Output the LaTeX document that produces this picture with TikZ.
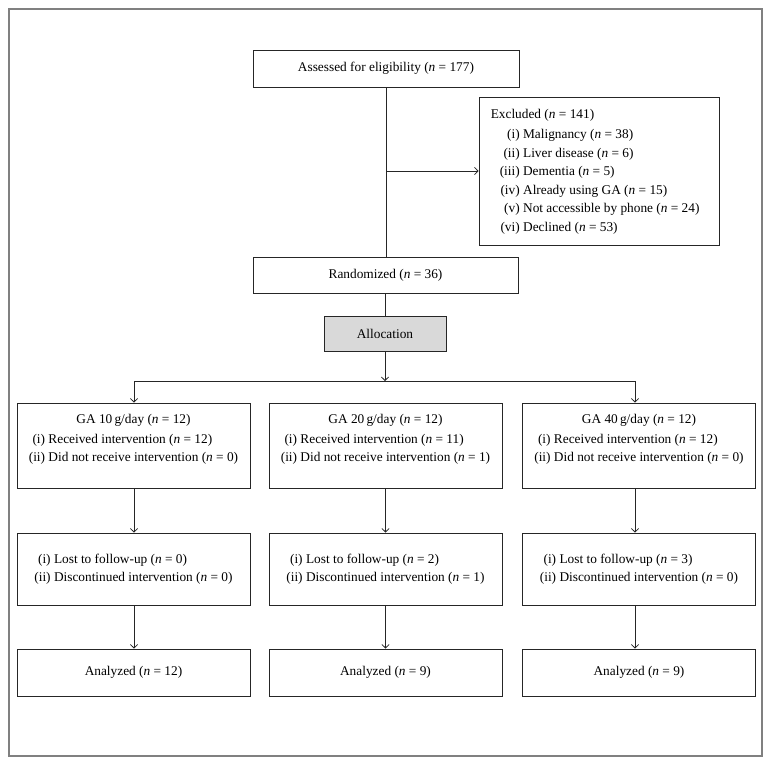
\documentclass[tikz,border=0pt]{standalone}
\usepackage{fontspec}
\setmainfont{Liberation Serif}
\usetikzlibrary{arrows.meta}
\definecolor{allocgray}{HTML}{D9D9D9}
\definecolor{framegray}{HTML}{808080}
\begin{document}
\begin{tikzpicture}[x=0.75pt,y=-0.75pt,
  box/.style={draw=black!85, line width=0.7pt, inner sep=0pt, fill=white, font=\fontsize{10}{12}\selectfont},
  txt/.style={inner sep=0pt, font=\fontsize{10}{12}\selectfont},
  colbox/.style={box, minimum width=174.75pt},
  conn/.style={line width=0.6pt, draw=black!85},
  arr/.style={conn, -{Straight Barb[length=2.6pt,width=5.5pt]}},
  outerframe/.style={draw=framegray, line width=0.8pt}]
\useasboundingbox (0,0) rectangle (772,766);
\draw[outerframe] (9,9) rectangle (762,756);

% top
\node[box, minimum width=199.5pt, minimum height=27.75pt] (assess) at (386,68.5) {Assessed for eligibility (\textit{n} = 177)};
\node[box, minimum width=180pt, minimum height=111pt] (excl) at (599,171) {};
\node[txt, anchor=west] (exclt) at ([xshift=9pt]excl.west) {\def\arraystretch{1.16}%
\begin{tabular}{@{\hspace{6.75pt}}r@{ }l@{}}
\multicolumn{2}{@{}l@{}}{Excluded (\textit{n} = 141)}\\[1.5pt]
(i) & Malignancy (\textit{n} = 38)\\
(ii) & Liver disease (\textit{n} = 6)\\
(iii) & Dementia (\textit{n} = 5)\\
(iv) & Already using GA (\textit{n} = 15)\\
(v) & Not accessible by phone (\textit{n} = 24)\\
(vi) & Declined (\textit{n} = 53)
\end{tabular}};
\node[box, minimum width=198.75pt, minimum height=27pt] (rand) at (385.5,275) {Randomized (\textit{n} = 36)};
\node[box, fill=allocgray, minimum width=91.5pt, minimum height=26.25pt] (alloc) at (385,333.5) {Allocation};

% column 1
\node[colbox, minimum height=63.75pt] (g1) at (133.5,445.5) {};
\node[txt] (g1t) at (133.5,439) {\def\arraystretch{1.125}%
\begin{tabular}{@{}r@{ }l@{}}
\multicolumn{2}{@{}c@{}}{GA 10\,g/day (\textit{n} = 12)}\\[1.5pt]
(i) & Received intervention (\textit{n} = 12)\\
(ii) & Did not receive intervention (\textit{n} = 0)
\end{tabular}};
\node[colbox, minimum height=54pt] (f1) at (133.5,569) {\def\arraystretch{1.125}%
\begin{tabular}{@{}r@{ }l@{}}
(i) & Lost to follow-up (\textit{n} = 0)\\
(ii) & Discontinued intervention (\textit{n} = 0)
\end{tabular}};
\node[colbox, minimum height=35.25pt] (a1) at (133.5,672.5) {Analyzed (\textit{n} = 12)};

% column 2
\node[colbox, minimum height=63.75pt] (g2) at (385.5,445.5) {};
\node[txt] (g2t) at (385.5,439) {\def\arraystretch{1.125}%
\begin{tabular}{@{}r@{ }l@{}}
\multicolumn{2}{@{}c@{}}{GA 20\,g/day (\textit{n} = 12)}\\[1.5pt]
(i) & Received intervention (\textit{n} = 11)\\
(ii) & Did not receive intervention (\textit{n} = 1)
\end{tabular}};
\node[colbox, minimum height=54pt] (f2) at (385.5,569) {\def\arraystretch{1.125}%
\begin{tabular}{@{}r@{ }l@{}}
(i) & Lost to follow-up (\textit{n} = 2)\\
(ii) & Discontinued intervention (\textit{n} = 1)
\end{tabular}};
\node[colbox, minimum height=35.25pt] (a2) at (385.5,672.5) {Analyzed (\textit{n} = 9)};

% column 3
\node[colbox, minimum height=63.75pt] (g3) at (639,445.5) {};
\node[txt] (g3t) at (639,439) {\def\arraystretch{1.125}%
\begin{tabular}{@{}r@{ }l@{}}
\multicolumn{2}{@{}c@{}}{GA 40\,g/day (\textit{n} = 12)}\\[1.5pt]
(i) & Received intervention (\textit{n} = 12)\\
(ii) & Did not receive intervention (\textit{n} = 0)
\end{tabular}};
\node[colbox, minimum height=54pt] (f3) at (639,569) {\def\arraystretch{1.125}%
\begin{tabular}{@{}r@{ }l@{}}
(i) & Lost to follow-up (\textit{n} = 3)\\
(ii) & Discontinued intervention (\textit{n} = 0)
\end{tabular}};
\node[colbox, minimum height=35.25pt] (a3) at (639,672.5) {Analyzed (\textit{n} = 9)};

% connectors
\draw[conn] (assess.south) -- (assess.south |- rand.north);
\coordinate (br) at (assess.south |- excl.west);
\draw[arr] (br) -- (excl.west);
\draw[conn] (rand.south) -- (rand.south |- alloc.north);
\coordinate (j) at (385.5,381);
\coordinate (x1) at (134,381);
\coordinate (x3) at (635,381);
\draw[arr] (alloc.south |- alloc.south) -- (alloc.south |- j);
\draw[arr] (j) -| (x1 |- g1.north);
\draw[arr] (j) -| (x3 |- g3.north);
\draw[arr] (x1 |- g1.south) -- (x1 |- f1.north);
\draw[arr] (x1 |- f1.south) -- (x1 |- a1.north);
\draw[arr] (g2.south) -- (f2.north);
\draw[arr] (f2.south) -- (a2.north);
\draw[arr] (x3 |- g3.south) -- (x3 |- f3.north);
\draw[arr] (x3 |- f3.south) -- (x3 |- a3.north);
\end{tikzpicture}
\end{document}
